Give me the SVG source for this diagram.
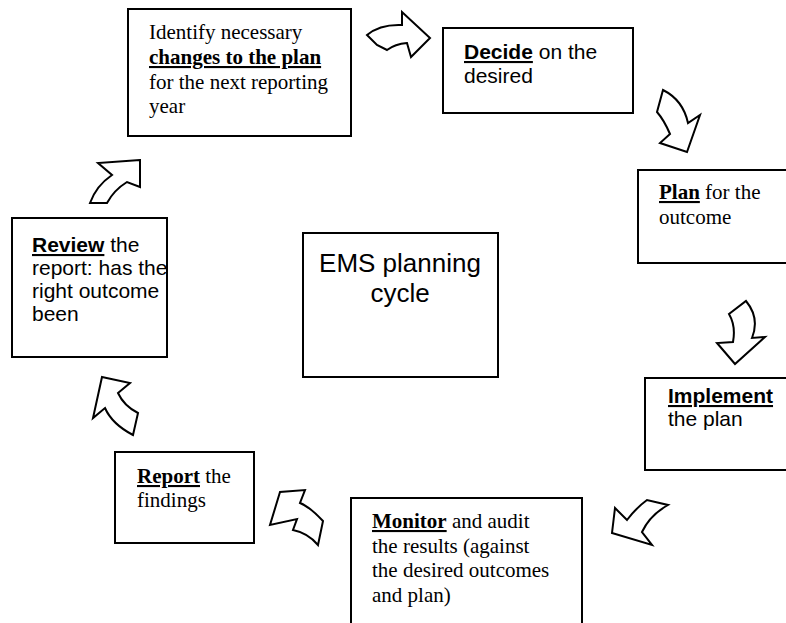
<svg xmlns="http://www.w3.org/2000/svg" width="786" height="623" viewBox="0 0 786 623">
<style>
.box{fill:#fff;stroke:#000;stroke-width:2}
.arr{fill:#fff;stroke:#000;stroke-width:2;stroke-linejoin:miter}
.tr{font-family:"Liberation Serif","Times New Roman",serif;font-size:21px;fill:#000}
.ar{font-family:"Liberation Sans",Arial,sans-serif;font-size:21px;fill:#000}
.b{font-weight:bold;text-decoration:underline}
.big{font-family:"Liberation Sans",Arial,sans-serif;font-size:26px;fill:#000;text-anchor:middle}
</style>
<rect width="786" height="623" fill="#fff"/>
<g id="connectors">
<path class="arr" d="M367,35 Q380,24 402,25 L402,12 L430,38 L411,57 L407,43 Q395,44 387,50 L377,45 Z"/>
<path class="arr" d="M663,90 Q683,100 688,123 L700,115 L687,152 L660,143 L670,134 Q664,120 657,112 Z"/>
<path class="arr" d="M746,301 Q760,318 752,338 L765,337 L735,364 L717,343 L733,342 Q736,326 729,314 Z"/>
<path class="arr" d="M612,533 L615,508 L627,520 Q636,508 647,500 L668,505 Q650,515 642,532 L652,545 Z"/>
<path class="arr" d="M280,492 L270,525 L297,519 L293,530 Q308,533 318,545 L323,521 Q310,507 300,503 L305,490 Z"/>
<path class="arr" d="M102,377 L130,383 L118,393 Q124,406 138,413 L133,435 Q112,424 105,408 L93,418 Z"/>
<path class="arr" d="M140,160 L98,163 L112,175 Q96,186 90,203 L107,203 Q114,190 127,182 L140,187 Z"/>
</g>
<g id="n1">
<rect class="box" x="128" y="9" width="223" height="127"/>
<text class="tr" x="149" y="39">Identify necessary</text>
<text class="tr" x="149" y="64"><tspan class="b">changes to the plan</tspan></text>
<text class="tr" x="149" y="89">for the next reporting</text>
<text class="tr" x="149" y="113">year</text>
</g>
<g id="n2">
<rect class="box" x="443" y="28" width="190" height="85"/>
<text class="ar" x="464" y="59"><tspan class="b">Decide</tspan> on the</text>
<text class="ar" x="464" y="83">desired</text>
</g>
<g id="n3">
<rect class="box" x="638" y="170" width="160" height="93"/>
<text class="tr" x="659" y="199"><tspan class="b">Plan</tspan> for the</text>
<text class="tr" x="659" y="224">outcome</text>
</g>
<g id="n4">
<rect class="box" x="645" y="378" width="160" height="92"/>
<text class="ar" x="668" y="403"><tspan class="b">Implement</tspan></text>
<text class="ar" x="668" y="426">the plan</text>
</g>
<g id="n5">
<rect class="box" x="351" y="498" width="231" height="140"/>
<text class="tr" x="372" y="528"><tspan class="b">Monitor</tspan> and audit</text>
<text class="tr" x="372" y="553">the results (against</text>
<text class="tr" x="372" y="577">the desired outcomes</text>
<text class="tr" x="372" y="602">and plan)</text>
</g>
<g id="n6">
<rect class="box" x="115" y="452" width="139" height="91"/>
<text class="tr" x="137" y="483"><tspan class="b">Report</tspan> the</text>
<text class="tr" x="137" y="507">findings</text>
</g>
<g id="n7">
<rect class="box" x="12" y="218" width="155" height="139"/>
<text class="ar" x="32" y="252"><tspan class="b">Review</tspan> the</text>
<text class="ar" x="32" y="275">report: has the</text>
<text class="ar" x="32" y="298">right outcome</text>
<text class="ar" x="32" y="321">been</text>
</g>
<g id="center">
<rect class="box" x="303" y="233" width="195" height="144"/>
<text class="big" x="400" y="272">EMS planning</text>
<text class="big" x="400" y="302">cycle</text>
</g>
</svg>
